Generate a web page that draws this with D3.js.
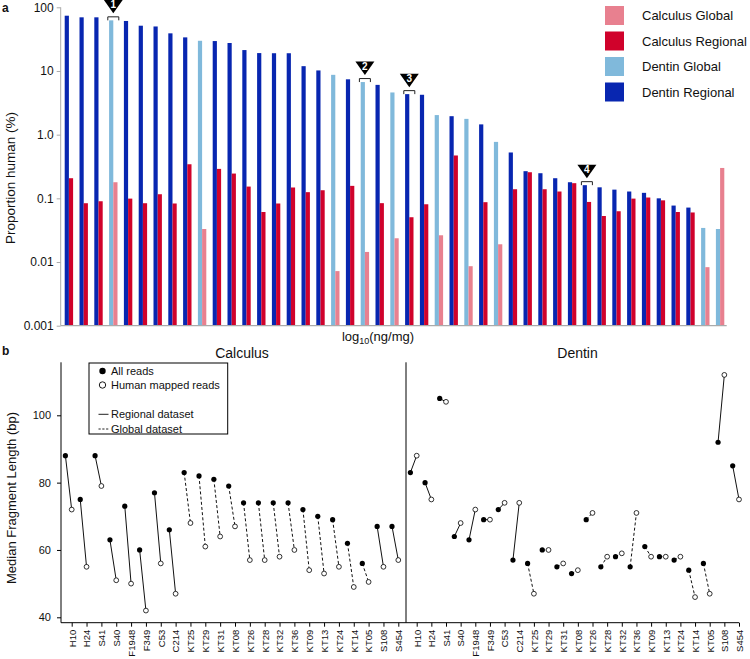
<!DOCTYPE html>
<html>
<head>
<meta charset="utf-8">
<script src="https://cdn.jsdelivr.net/npm/d3@7"></script>
<style>
    body { margin: 0; background: #fff; }
    text { font-family: "Liberation Sans", Arial, sans-serif; fill: #111; }
</style>
</head>
<body>
<div id="chartContainer"></div>
<script>
// panel a: proportion human, one entry per sample pair (sorted by dentin value)
const dentinProp = [73.8, 69.6, 69.6, 62.4, 61, 51.4, 50, 39, 33.7, 29.8, 29.5, 27.5, 21.3, 19.1, 19, 19,
    11.9, 10.2, 8.7, 7.4, 6.7, 6.05, 4.6, 4.33, 4.23, 2.03, 1.95, 1.77, 1.45, 0.77, 0.525, 0.267, 0.248,
    0.207, 0.179, 0.161, 0.149, 0.137, 0.128, 0.122, 0.1, 0.077, 0.0716, 0.0343, 0.033];
const calculusProp = [0.207, 0.0838, 0.09, 0.179, 0.099, 0.0838, 0.116, 0.083, 0.343, 0.033, 0.29, 0.245,
    0.153, 0.061, 0.083, 0.148, 0.125, 0.134, 0.0072, 0.157, 0.0144, 0.084, 0.0236, 0.0505, 0.0807, 0.0263,
    0.471, 0.0086, 0.087, 0.019, 0.139, 0.257, 0.139, 0.128, 0.173, 0.0878, 0.0528, 0.0627, 0.099, 0.103,
    0.093, 0.061, 0.060, 0.0083, 0.30];
const pairDataset = ["Regional", "Regional", "Regional", "Global", "Regional", "Regional", "Regional", "Regional",
    "Regional", "Global", "Regional", "Regional", "Regional", "Regional", "Regional", "Regional", "Regional",
    "Regional", "Global", "Regional", "Global", "Regional", "Global", "Regional", "Regional", "Global",
    "Regional", "Global", "Regional", "Global", "Regional", "Regional", "Regional", "Regional", "Regional",
    "Regional", "Regional", "Regional", "Regional", "Regional", "Regional", "Regional", "Regional", "Global",
    "Global"];
const markerPairs = [3, 20, 23, 35];
const markerLabels = ["1", "2", "3", "4"];
const yTickValues = [0.001, 0.01, 0.1, 1, 10, 100];
const yTickLabels = ["0.001", "0.01", "0.1", "1.0", "10", "100"];
const legendLabels = ["Calculus Global", "Calculus Regional", "Dentin Global", "Dentin Regional"];

// panel b: median fragment length
const samples = ["H10", "H24", "S41", "S40", "F1948", "F349", "C53", "C214", "KT25", "KT29", "KT31", "KT08",
    "KT26", "KT28", "KT32", "KT36", "KT09", "KT13", "KT24", "KT14", "KT05", "S108", "S454"];
const sampleDataset = ["Regional", "Regional", "Regional", "Regional", "Regional", "Regional", "Regional",
    "Regional", "Global", "Global", "Global", "Global", "Global", "Global", "Global", "Global", "Global",
    "Global", "Global", "Global", "Global", "Regional", "Regional"];
const calcAll = [88, 75, 88, 63, 73, 60, 77, 66, 83, 82, 81, 79, 74, 74, 74, 74, 72, 70, 69, 62, 56, 67, 67];
const calcHuman = [72, 55, 79, 51, 50, 42, 56, 47, 68, 61, 64, 67, 57, 57, 58, 60, 54, 53, 55, 49, 50.5, 55, 57];
const dentAll = [83, 80, 105, 64, 63, 69, 72, 57, 56, 60, 55, 53, 69, 55, 58, 55, 61, 58, 57, 54, 56, 92, 85];
const dentHuman = [88, 75, 104, 68, 72, 69, 74, 74, 47, 60, 56, 54, 71, 58, 59, 71, 58, 58, 58, 46, 47, 112, 75];
const lengthTicks = [40, 60, 80, 100];

const colors = {
    "Calculus Global": "#e8808f",
    "Calculus Regional": "#d0022b",
    "Dentin Global": "#80b9db",
    "Dentin Regional": "#0826b0"
};

const width = 750, height = 659;
let svg = null;

function init() {
    svg = d3.select("#chartContainer")
        .append("svg")
        .attr("width", width)
        .attr("height", height);

    svg.append("text").text("a").attr("x", 2).attr("y", 12)
        .style("font-weight", "bold").style("font-size", "12px");
    svg.append("text").text("b").attr("x", 2).attr("y", 355)
        .style("font-weight", "bold").style("font-size", "12px");

    drawProportion();
    drawLengths();
}

function drawProportion() {
    const x = d3.scaleBand()
        .domain(d3.range(dentinProp.length))
        .range([60.7, 726.7]);
    const x1 = d3.scaleBand()
        .domain(["Dentin", "Calculus"])
        .range([4, 12.4]);
    const y = d3.scaleLog()
        .domain([0.001, 100])
        .range([325.7, 7.3]);

    const pairs = dentinProp.map((d, i) => ({
        i: i, dentin: d, calculus: calculusProp[i], set: pairDataset[i]
    }));

    const g = svg.append("g");

    g.selectAll("rect.dentin")
        .data(pairs)
        .enter()
        .append("rect")
        .attr("class", "dentin")
        .attr("x", d => x(d.i) + x1("Dentin"))
        .attr("width", x1.bandwidth())
        .attr("y", d => y(d.dentin))
        .attr("height", d => y(0.001) - y(d.dentin))
        .style("fill", d => colors["Dentin " + d.set]);

    g.selectAll("rect.calculus")
        .data(pairs)
        .enter()
        .append("rect")
        .attr("class", "calculus")
        .attr("x", d => x(d.i) + x1("Calculus"))
        .attr("width", x1.bandwidth())
        .attr("y", d => y(d.calculus))
        .attr("height", d => y(0.001) - y(d.calculus))
        .style("fill", d => colors["Calculus " + d.set]);

    // axes
    const yAxis = g.append("g")
        .attr("transform", `translate(${60.7},0)`)
        .call(d3.axisLeft(y).tickValues(yTickValues).tickSize(4).tickPadding(3)
            .tickFormat((d, i) => yTickLabels[i]));
    yAxis.select(".domain").attr("stroke", "#aaa").attr("d", `M0,${y(100)}V${y(0.001)}`);
    yAxis.selectAll(".tick line").attr("stroke", "#aaa");
    yAxis.selectAll(".tick text").style("font-size", "12px")
        .style("font-family", "'Liberation Sans', Arial, sans-serif").attr("fill", "#111");

    g.append("line")
        .attr("x1", 60.7).attr("x2", 726.7)
        .attr("y1", y(0.001)).attr("y2", y(0.001))
        .attr("stroke", "#aaa").attr("stroke-width", 1.2);

    g.append("text")
        .attr("transform", `translate(${15},${178})rotate(-90)`)
        .attr("text-anchor", "middle")
        .style("font-size", "13.5px")
        .text("Proportion human (%)");

    const xl = g.append("text")
        .attr("x", 378).attr("y", 341)
        .attr("text-anchor", "middle")
        .style("font-size", "13px");
    xl.append("tspan").text("log");
    xl.append("tspan").text("10").attr("dy", 3).style("font-size", "9px");
    xl.append("tspan").text("(ng/mg)").attr("dy", -3);

    // numbered markers above selected samples
    markerPairs.forEach((p, k) => {
        const cx = x(p) + x1("Calculus");
        const top = y(dentinProp[p]);
        g.append("path")
            .attr("d", `M${cx - 5.5},${top}V${top - 3.5}H${cx + 5.5}V${top}`)
            .attr("fill", "none").attr("stroke", "#222").attr("stroke-width", 1);
        g.append("path")
            .attr("d", `M${cx - 9.5},${top - 20.5}L${cx + 9.5},${top - 20.5}L${cx},${top - 7}Z`)
            .attr("fill", "#000");
        g.append("text")
            .attr("x", cx).attr("y", top - 12.5)
            .attr("text-anchor", "middle")
            .style("font-size", "10px").style("font-weight", "bold")
            .style("fill", "#fff")
            .text(markerLabels[k]);
    });

    // legend
    const legend = g.selectAll("g.legend")
        .data(legendLabels)
        .enter()
        .append("g")
        .attr("transform", (d, i) => `translate(${605},${6 + i * 25.5})`);
    legend.append("rect")
        .attr("width", 19).attr("height", 19)
        .style("fill", d => colors[d]);
    legend.append("text")
        .attr("x", 37).attr("y", 14)
        .style("font-size", "13px")
        .text(d => d);
}

function drawLengths() {
    const xCalc = d3.scalePoint().domain(samples).range([71.7, 398.3]);
    const xDent = d3.scalePoint().domain(samples).range([416.7, 739]);
    const y = d3.scaleLinear().domain([40, 100]).range([617.3, 415.3]);
    const top = 362.3, bottom = 622.7, left = 61;

    const g = svg.append("g");

    // axes
    g.append("line").attr("x1", left).attr("x2", left).attr("y1", top).attr("y2", bottom)
        .attr("stroke", "#000");
    g.append("line").attr("x1", left).attr("x2", xDent("S454")).attr("y1", bottom).attr("y2", bottom)
        .attr("stroke", "#000");
    g.append("line").attr("x1", 406).attr("x2", 406).attr("y1", top).attr("y2", bottom)
        .attr("stroke", "#000");

    const yAxis = g.append("g")
        .attr("transform", `translate(${left},0)`)
        .call(d3.axisLeft(y).tickValues(lengthTicks).tickSize(4).tickPadding(6));
    yAxis.select(".domain").remove();
    yAxis.selectAll(".tick text").style("font-size", "11px")
        .style("font-family", "'Liberation Sans', Arial, sans-serif").attr("fill", "#111");

    [xCalc, xDent].forEach(sc => {
        const ax = g.append("g")
            .attr("transform", `translate(0,${bottom})`)
            .call(d3.axisBottom(sc).tickSize(4).tickPadding(3));
        ax.select(".domain").remove();
        ax.selectAll(".tick text")
            .attr("transform", "rotate(-90)")
            .attr("text-anchor", "end")
            .attr("x", -7).attr("y", 0).attr("dy", "0.35em")
            .style("font-size", "9.5px")
            .style("font-family", "'Liberation Sans', Arial, sans-serif").attr("fill", "#111");
    });

    g.append("text")
        .attr("transform", `translate(${15.5},${498})rotate(-90)`)
        .attr("text-anchor", "middle")
        .style("font-size", "13px")
        .text("Median Fragment Length (bp)");

    g.append("text").attr("x", 242).attr("y", 358).attr("text-anchor", "middle")
        .style("font-size", "14px").text("Calculus");
    g.append("text").attr("x", 577.5).attr("y", 358).attr("text-anchor", "middle")
        .style("font-size", "14px").text("Dentin");

    drawPairs(g, xCalc, y, calcAll, calcHuman);
    drawPairs(g, xDent, y, dentAll, dentHuman);

    // legend box
    const lg = g.append("g").attr("transform", `translate(${89},${363})`);
    lg.append("rect").attr("width", 138.7).attr("height", 71)
        .attr("fill", "#fff").attr("stroke", "#000");
    lg.append("circle").attr("cx", 13.5).attr("cy", 8).attr("r", 3.2).attr("fill", "#000");
    lg.append("circle").attr("cx", 13.5).attr("cy", 22).attr("r", 3.2)
        .attr("fill", "#fff").attr("stroke", "#000").attr("stroke-width", 0.9);
    lg.append("line").attr("x1", 9.5).attr("x2", 19.5).attr("y1", 51.3).attr("y2", 51.3)
        .attr("stroke", "#222");
    lg.append("line").attr("x1", 9.5).attr("x2", 19.5).attr("y1", 66).attr("y2", 66)
        .attr("stroke", "#222").attr("stroke-dasharray", "2.2,1.6");
    const rows = [["All reads", 8], ["Human mapped reads", 22], ["Regional dataset", 51.3], ["Global dataset", 66]];
    rows.forEach(r => {
        lg.append("text").attr("x", 22).attr("y", r[1]).attr("dy", "0.35em")
            .style("font-size", "11px").text(r[0]);
    });
}

function drawPairs(g, x, y, allReads, humanReads) {
    const pts = samples.map((s, i) => ({
        s: s, all: allReads[i], human: humanReads[i], set: sampleDataset[i]
    }));
    const off = -6.3;

    g.selectAll(null)
        .data(pts)
        .enter()
        .append("line")
        .attr("x1", d => x(d.s) + off).attr("y1", d => y(d.all))
        .attr("x2", d => x(d.s)).attr("y2", d => y(d.human))
        .attr("stroke", "#111").attr("stroke-width", 1)
        .attr("stroke-dasharray", d => d.set === "Global" ? "3,2.2" : null);

    g.selectAll(null)
        .data(pts)
        .enter()
        .append("circle")
        .attr("cx", d => x(d.s) + off).attr("cy", d => y(d.all))
        .attr("r", 2.6).attr("fill", "#000");

    g.selectAll(null)
        .data(pts)
        .enter()
        .append("circle")
        .attr("cx", d => x(d.s)).attr("cy", d => y(d.human))
        .attr("r", 2.4).attr("fill", "#fff")
        .attr("stroke", "#000").attr("stroke-width", 0.8);
}

init();
</script>
</body>
</html>
